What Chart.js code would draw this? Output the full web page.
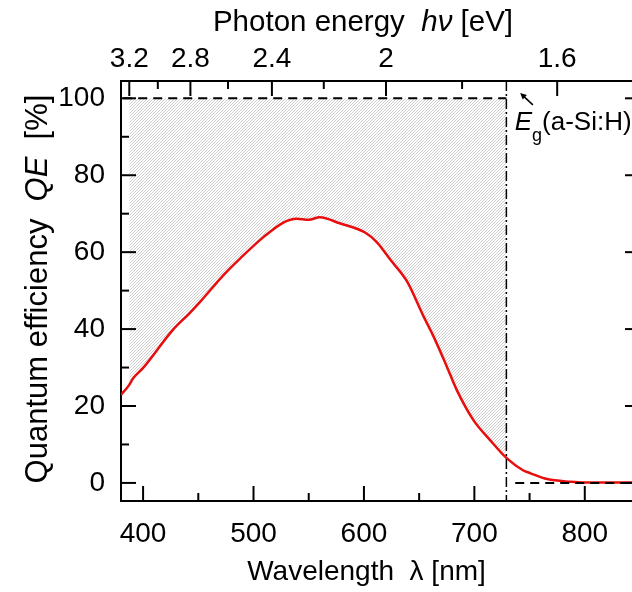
<!DOCTYPE html>
<html>
<head>
<meta charset="utf-8">
<script src="https://cdn.jsdelivr.net/npm/chart.js@4.4.0/dist/chart.umd.min.js"></script>
<style>
  html, body { margin: 0; padding: 0; background: #fff; overflow: hidden; width: 632px; height: 592px; }
  canvas { display: block; }
</style>
</head>
<body>
<canvas id="qeChart" width="642" height="592"></canvas>
<script>
// measured quantum efficiency of the a-Si:H cell
const wavelength = [380, 387.5, 391, 400, 427, 442, 452, 473, 488, 509, 527, 539, 550, 560, 578, 601, 612, 624, 639, 654, 663, 675, 684, 699, 714, 729, 744, 751, 766, 787, 800, 850];
const qe = [22.9, 25.5, 27.2, 29.9, 39.8, 44.1, 47.2, 54.1, 58.4, 63.9, 67.7, 68.7, 68.4, 69.1, 67.5, 65.1, 62.5, 58.0, 52.4, 43.3, 38.1, 30.3, 24.2, 16.4, 11.2, 6.5, 3.3, 2.5, 1.0, 0.3, 0.1, 0.1];

// axis ticks
const wlMajor = [400, 500, 600, 700, 800];
const wlMinor = [450, 550, 650, 750];
const qeMajor = [0, 20, 40, 60, 80, 100];
const qeMinor = [10, 30, 50, 70, 90];
const energyMajor = [3.2, 2.8, 2.4, 2.0, 1.6];
const energyMinor = [3.0, 2.6, 2.2, 1.8];
const energyLabels = ['3.2', '2.8', '2.4', '2', '1.6'];

// band gap of a-Si:H and the hatched loss region
const egWavelength = 729;
const hatchStart = 387.5;
const idealStart = 382;
const zeroStart = 737;

const FONT = "'Liberation Sans', Arial, sans-serif";

function hatchPattern() {
    const c = document.createElement('canvas');
    c.width = 3;
    c.height = 3;
    const g = c.getContext('2d');
    g.strokeStyle = 'rgba(150,150,150,0.6)';
    g.lineWidth = 0.8;
    for (let i = -1; i <= 1; i++) {
        g.beginPath();
        g.moveTo(i * 3, 3);
        g.lineTo(i * 3 + 3, 0);
        g.stroke();
    }
    return g.createPattern(c, 'repeat');
}

function drawRuns(ctx, runs, x, y) {
    runs.forEach(r => {
        ctx.font = r.font;
        ctx.fillText(r.text, x, y + (r.dy || 0));
        x += ctx.measureText(r.text).width;
    });
}

function runsWidth(ctx, runs) {
    let w = 0;
    runs.forEach(r => { ctx.font = r.font; w += ctx.measureText(r.text).width; });
    return w;
}

const framePlugin = {
    id: 'frame',
    afterDraw(chart) {
        const ctx = chart.ctx;
        const a = chart.chartArea;
        const xs = chart.scales.x, ys = chart.scales.y;
        ctx.save();
        ctx.strokeStyle = '#000';
        ctx.fillStyle = '#000';
        ctx.lineWidth = 2;

        function tick(x1, y1, x2, y2) {
            ctx.beginPath();
            ctx.moveTo(x1, y1);
            ctx.lineTo(x2, y2);
            ctx.stroke();
        }
        // inward ticks on all four sides
        wlMajor.forEach(v => { const p = xs.getPixelForValue(v); tick(p, a.bottom, p, a.bottom - 15); });
        wlMinor.forEach(v => { const p = xs.getPixelForValue(v); tick(p, a.bottom, p, a.bottom - 8); });
        energyMajor.forEach(e => { const p = xs.getPixelForValue(1240 / e); tick(p, a.top, p, a.top + 15); });
        energyMinor.forEach(e => { const p = xs.getPixelForValue(1240 / e); tick(p, a.top, p, a.top + 8); });
        qeMajor.forEach(v => {
            const p = ys.getPixelForValue(v);
            tick(a.left, p, a.left + 15, p);
            tick(a.right, p, a.right - 15, p);
        });
        qeMinor.forEach(v => {
            const p = ys.getPixelForValue(v);
            tick(a.left, p, a.left + 8, p);
            tick(a.right, p, a.right - 8, p);
        });

        // band gap dash-dot line
        const ex = xs.getPixelForValue(egWavelength);
        ctx.lineWidth = 1.5;
        ctx.setLineDash([10, 3, 2, 3]);
        tick(ex, a.top, ex, a.bottom);
        ctx.setLineDash([]);

        // arrow pointing to the line
        const ax1 = xs.getPixelForValue(753), ay1 = ys.getPixelForValue(98.3);
        const ax2 = xs.getPixelForValue(741.5), ay2 = ys.getPixelForValue(101.4);
        ctx.lineWidth = 1.5;
        tick(ax1, ay1, ax2 + 3, ay2 + 3);
        const ang = Math.atan2(ay2 - ay1, ax2 - ax1);
        ctx.beginPath();
        ctx.moveTo(ax2, ay2);
        ctx.lineTo(ax2 - 7 * Math.cos(ang - 0.45), ay2 - 7 * Math.sin(ang - 0.45));
        ctx.lineTo(ax2 - 7 * Math.cos(ang + 0.45), ay2 - 7 * Math.sin(ang + 0.45));
        ctx.closePath();
        ctx.fill();

        // Eg(a-Si:H) label
        ctx.textBaseline = 'alphabetic';
        ctx.textAlign = 'left';
        drawRuns(ctx, [
            { text: 'E', font: 'italic 26px ' + FONT },
            { text: 'g', font: '18px ' + FONT, dy: 11 },
            { text: '(a-Si:H)', font: '26px ' + FONT }
        ], xs.getPixelForValue(736.5), ys.getPixelForValue(91.8));

        // axis titles
        const bottomRuns = [
            { text: 'Wavelength  ', font: '28px ' + FONT },
            { text: 'λ', font: '28px ' + FONT },
            { text: ' [nm]', font: '28px ' + FONT }
        ];
        drawRuns(ctx, bottomRuns, 366.5 - runsWidth(ctx, bottomRuns) / 2, 580);

        const topRuns = [
            { text: 'Photon energy  ', font: '29.5px ' + FONT },
            { text: 'hν', font: 'italic 29.5px ' + FONT },
            { text: ' [eV]', font: '29.5px ' + FONT }
        ];
        drawRuns(ctx, topRuns, 363 - runsWidth(ctx, topRuns) / 2, 31);

        const yRuns = [
            { text: 'Quantum efficiency  ', font: '31px ' + FONT },
            { text: 'QE', font: 'italic 31px ' + FONT },
            { text: '  [%]', font: '31px ' + FONT }
        ];
        ctx.translate(47, 289);
        ctx.rotate(-Math.PI / 2);
        drawRuns(ctx, yRuns, -runsWidth(ctx, yRuns) / 2, 0);
        ctx.restore();
    }
};

const hatchPoints = [];
wavelength.forEach((w, i) => {
    if (w >= hatchStart && w <= egWavelength) hatchPoints.push({ x: w, y: qe[i] });
});

new Chart(document.getElementById('qeChart'), {
    type: 'line',
    data: {
        datasets: [{
            label: 'ideal',
            data: [{ x: idealStart, y: 100 }, { x: egWavelength, y: 100 }],
            borderColor: '#000',
            borderWidth: 2,
            borderDash: [9, 6],
            pointRadius: 0,
            order: 0
        }, {
            label: 'zero',
            data: [{ x: zeroStart, y: 0 }, { x: 850, y: 0 }],
            borderColor: '#000',
            borderWidth: 2,
            borderDash: [9, 6],
            pointRadius: 0,
            order: 0
        }, {
            label: 'QE',
            data: wavelength.map((w, i) => ({ x: w, y: qe[i] })),
            borderColor: 'rgb(232,14,14)',
            borderWidth: 2.5,
            pointRadius: 0,
            cubicInterpolationMode: 'monotone',
            order: 1
        }, {
            label: 'loss',
            data: hatchPoints,
            borderWidth: 0,
            pointRadius: 0,
            cubicInterpolationMode: 'monotone',
            backgroundColor: hatchPattern(),
            fill: { value: 100 },
            order: 2
        }]
    },
    options: {
        responsive: false,
        devicePixelRatio: 1,
        animation: false,
        layout: { padding: 0 },
        plugins: {
            legend: { display: false },
            tooltip: { enabled: false }
        },
        scales: {
            x: {
                type: 'linear',
                position: 'bottom',
                min: 380,
                max: 850,
                afterBuildTicks: (s) => { s.ticks = wlMajor.map(v => ({ value: v })); },
                afterFit: (s) => { s.height = 91; },
                grid: { display: false, drawTicks: false },
                border: { display: true, color: '#000', width: 2 },
                ticks: { color: '#000', font: { family: FONT, size: 28 }, padding: 16, maxRotation: 0, autoSkip: false }
            },
            x2: {
                type: 'linear',
                position: 'top',
                min: 380,
                max: 850,
                afterBuildTicks: (s) => { s.ticks = energyMajor.map(e => ({ value: 1240 / e })); },
                afterFit: (s) => { s.height = 81; },
                grid: { display: false, drawTicks: false },
                border: { display: true, color: '#000', width: 2 },
                ticks: {
                    color: '#000',
                    font: { family: FONT, size: 28 },
                    padding: 5,
                    maxRotation: 0,
                    autoSkip: false,
                    callback: (value, index) => energyLabels[index]
                }
            },
            y: {
                type: 'linear',
                position: 'left',
                min: -4.7,
                max: 104.5,
                afterBuildTicks: (s) => { s.ticks = qeMajor.map(v => ({ value: v })); },
                afterFit: (s) => { s.width = 121; },
                grid: { display: false, drawTicks: false },
                border: { display: true, color: '#000', width: 2 },
                ticks: { color: '#000', font: { family: FONT, size: 28 }, padding: 16 }
            },
            y2: {
                type: 'linear',
                position: 'right',
                min: -4.7,
                max: 104.5,
                afterFit: (s) => { s.width = 2; },
                grid: { display: false, drawTicks: false },
                border: { display: true, color: '#000', width: 2 },
                ticks: { display: false }
            }
        }
    },
    plugins: [framePlugin]
});
</script>
</body>
</html>
